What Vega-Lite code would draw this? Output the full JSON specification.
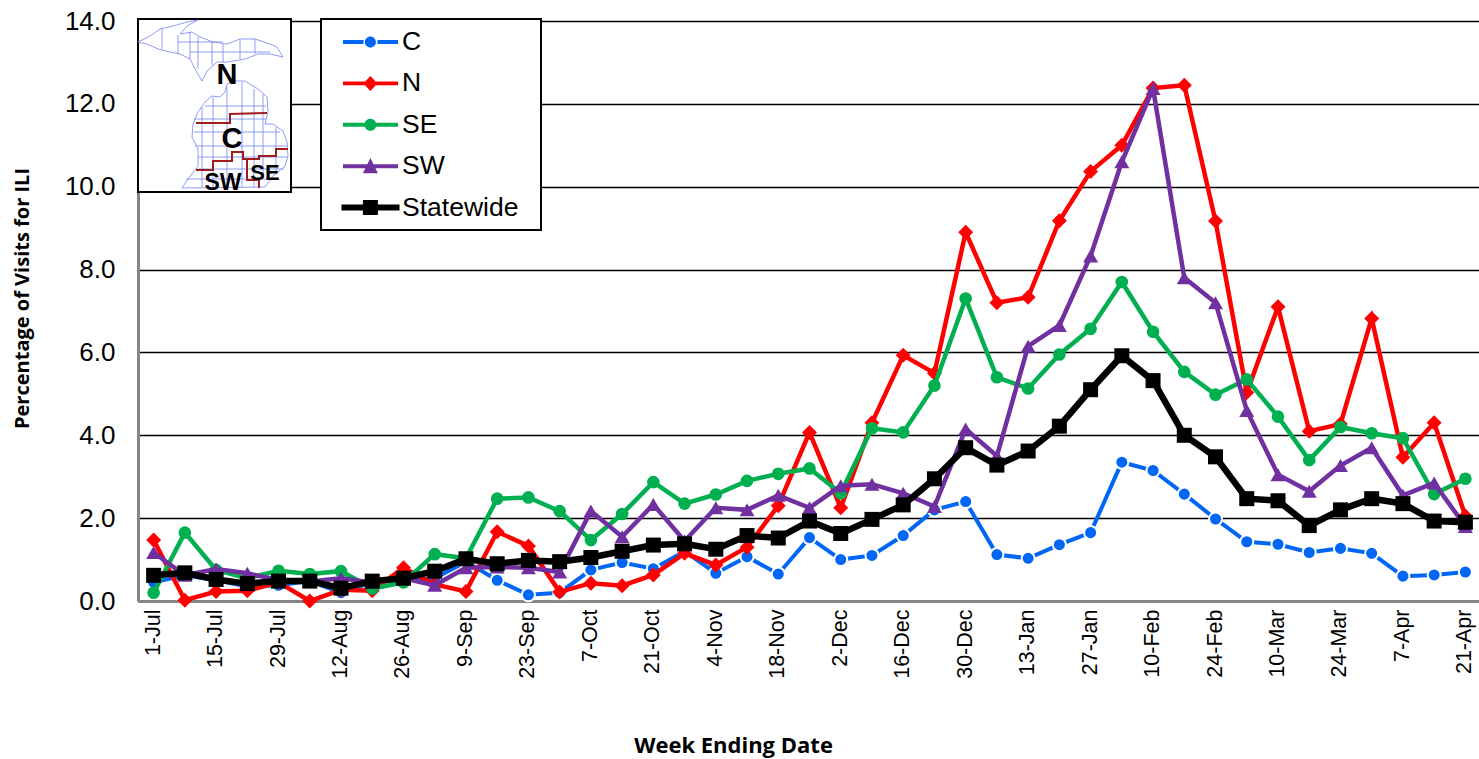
{
"$schema":"https://vega.github.io/schema/vega-lite/v6.json",
"width":1343,"height":580,"autosize":"none",
"padding":{"left":138,"top":21,"right":0,"bottom":158},
"background":"white",
"config":{"view":{"stroke":null},"legend":{"strokeWidth":2}},
"datasets":{
"ili":[
{"week":"1-Jul","region":"C","pct":0.45},{"week":"8-Jul","region":"C","pct":0.62},{"week":"15-Jul","region":"C","pct":0.5},{"week":"22-Jul","region":"C","pct":0.35},{"week":"29-Jul","region":"C","pct":0.38},{"week":"5-Aug","region":"C","pct":0.48},{"week":"12-Aug","region":"C","pct":0.2},{"week":"19-Aug","region":"C","pct":0.45},{"week":"26-Aug","region":"C","pct":0.5},{"week":"2-Sep","region":"C","pct":0.55},{"week":"9-Sep","region":"C","pct":0.95},{"week":"16-Sep","region":"C","pct":0.5},{"week":"23-Sep","region":"C","pct":0.15},{"week":"30-Sep","region":"C","pct":0.2},{"week":"7-Oct","region":"C","pct":0.75},{"week":"14-Oct","region":"C","pct":0.93},{"week":"21-Oct","region":"C","pct":0.78},{"week":"28-Oct","region":"C","pct":1.2},{"week":"4-Nov","region":"C","pct":0.67},{"week":"11-Nov","region":"C","pct":1.07},{"week":"18-Nov","region":"C","pct":0.65},{"week":"25-Nov","region":"C","pct":1.53},{"week":"2-Dec","region":"C","pct":1.0},{"week":"9-Dec","region":"C","pct":1.1},{"week":"16-Dec","region":"C","pct":1.58},{"week":"23-Dec","region":"C","pct":2.2},{"week":"30-Dec","region":"C","pct":2.4},{"week":"6-Jan","region":"C","pct":1.12},{"week":"13-Jan","region":"C","pct":1.03},{"week":"20-Jan","region":"C","pct":1.36},{"week":"27-Jan","region":"C","pct":1.65},{"week":"3-Feb","region":"C","pct":3.35},{"week":"10-Feb","region":"C","pct":3.15},{"week":"17-Feb","region":"C","pct":2.58},{"week":"24-Feb","region":"C","pct":1.98},{"week":"3-Mar","region":"C","pct":1.43},{"week":"10-Mar","region":"C","pct":1.37},{"week":"17-Mar","region":"C","pct":1.17},{"week":"24-Mar","region":"C","pct":1.27},{"week":"31-Mar","region":"C","pct":1.15},{"week":"7-Apr","region":"C","pct":0.6},{"week":"14-Apr","region":"C","pct":0.63},{"week":"21-Apr","region":"C","pct":0.7},
{"week":"1-Jul","region":"N","pct":1.47},{"week":"8-Jul","region":"N","pct":0.02},{"week":"15-Jul","region":"N","pct":0.23},{"week":"22-Jul","region":"N","pct":0.25},{"week":"29-Jul","region":"N","pct":0.45},{"week":"5-Aug","region":"N","pct":0.0},{"week":"12-Aug","region":"N","pct":0.27},{"week":"19-Aug","region":"N","pct":0.25},{"week":"26-Aug","region":"N","pct":0.8},{"week":"2-Sep","region":"N","pct":0.4},{"week":"9-Sep","region":"N","pct":0.23},{"week":"16-Sep","region":"N","pct":1.67},{"week":"23-Sep","region":"N","pct":1.33},{"week":"30-Sep","region":"N","pct":0.22},{"week":"7-Oct","region":"N","pct":0.43},{"week":"14-Oct","region":"N","pct":0.37},{"week":"21-Oct","region":"N","pct":0.63},{"week":"28-Oct","region":"N","pct":1.15},{"week":"4-Nov","region":"N","pct":0.87},{"week":"11-Nov","region":"N","pct":1.3},{"week":"18-Nov","region":"N","pct":2.3},{"week":"25-Nov","region":"N","pct":4.07},{"week":"2-Dec","region":"N","pct":2.25},{"week":"9-Dec","region":"N","pct":4.3},{"week":"16-Dec","region":"N","pct":5.93},{"week":"23-Dec","region":"N","pct":5.5},{"week":"30-Dec","region":"N","pct":8.9},{"week":"6-Jan","region":"N","pct":7.2},{"week":"13-Jan","region":"N","pct":7.33},{"week":"20-Jan","region":"N","pct":9.18},{"week":"27-Jan","region":"N","pct":10.37},{"week":"3-Feb","region":"N","pct":11.0},{"week":"10-Feb","region":"N","pct":12.38},{"week":"17-Feb","region":"N","pct":12.45},{"week":"24-Feb","region":"N","pct":9.17},{"week":"3-Mar","region":"N","pct":5.03},{"week":"10-Mar","region":"N","pct":7.1},{"week":"17-Mar","region":"N","pct":4.1},{"week":"24-Mar","region":"N","pct":4.27},{"week":"31-Mar","region":"N","pct":6.82},{"week":"7-Apr","region":"N","pct":3.47},{"week":"14-Apr","region":"N","pct":4.3},{"week":"21-Apr","region":"N","pct":2.05},
{"week":"1-Jul","region":"SE","pct":0.2},{"week":"8-Jul","region":"SE","pct":1.65},{"week":"15-Jul","region":"SE","pct":0.75},{"week":"22-Jul","region":"SE","pct":0.55},{"week":"29-Jul","region":"SE","pct":0.73},{"week":"5-Aug","region":"SE","pct":0.65},{"week":"12-Aug","region":"SE","pct":0.72},{"week":"19-Aug","region":"SE","pct":0.3},{"week":"26-Aug","region":"SE","pct":0.45},{"week":"2-Sep","region":"SE","pct":1.13},{"week":"9-Sep","region":"SE","pct":1.03},{"week":"16-Sep","region":"SE","pct":2.47},{"week":"23-Sep","region":"SE","pct":2.5},{"week":"30-Sep","region":"SE","pct":2.17},{"week":"7-Oct","region":"SE","pct":1.47},{"week":"14-Oct","region":"SE","pct":2.1},{"week":"21-Oct","region":"SE","pct":2.87},{"week":"28-Oct","region":"SE","pct":2.35},{"week":"4-Nov","region":"SE","pct":2.57},{"week":"11-Nov","region":"SE","pct":2.9},{"week":"18-Nov","region":"SE","pct":3.07},{"week":"25-Nov","region":"SE","pct":3.2},{"week":"2-Dec","region":"SE","pct":2.6},{"week":"9-Dec","region":"SE","pct":4.17},{"week":"16-Dec","region":"SE","pct":4.07},{"week":"23-Dec","region":"SE","pct":5.2},{"week":"30-Dec","region":"SE","pct":7.3},{"week":"6-Jan","region":"SE","pct":5.4},{"week":"13-Jan","region":"SE","pct":5.13},{"week":"20-Jan","region":"SE","pct":5.95},{"week":"27-Jan","region":"SE","pct":6.57},{"week":"3-Feb","region":"SE","pct":7.7},{"week":"10-Feb","region":"SE","pct":6.5},{"week":"17-Feb","region":"SE","pct":5.53},{"week":"24-Feb","region":"SE","pct":4.98},{"week":"3-Mar","region":"SE","pct":5.35},{"week":"10-Mar","region":"SE","pct":4.45},{"week":"17-Mar","region":"SE","pct":3.4},{"week":"24-Mar","region":"SE","pct":4.2},{"week":"31-Mar","region":"SE","pct":4.05},{"week":"7-Apr","region":"SE","pct":3.93},{"week":"14-Apr","region":"SE","pct":2.58},{"week":"21-Apr","region":"SE","pct":2.95},
{"week":"1-Jul","region":"SW","pct":1.17},{"week":"8-Jul","region":"SW","pct":0.62},{"week":"15-Jul","region":"SW","pct":0.77},{"week":"22-Jul","region":"SW","pct":0.67},{"week":"29-Jul","region":"SW","pct":0.5},{"week":"5-Aug","region":"SW","pct":0.47},{"week":"12-Aug","region":"SW","pct":0.55},{"week":"19-Aug","region":"SW","pct":0.45},{"week":"26-Aug","region":"SW","pct":0.55},{"week":"2-Sep","region":"SW","pct":0.38},{"week":"9-Sep","region":"SW","pct":0.8},{"week":"16-Sep","region":"SW","pct":0.82},{"week":"23-Sep","region":"SW","pct":0.8},{"week":"30-Sep","region":"SW","pct":0.7},{"week":"7-Oct","region":"SW","pct":2.17},{"week":"14-Oct","region":"SW","pct":1.55},{"week":"21-Oct","region":"SW","pct":2.33},{"week":"28-Oct","region":"SW","pct":1.45},{"week":"4-Nov","region":"SW","pct":2.25},{"week":"11-Nov","region":"SW","pct":2.2},{"week":"18-Nov","region":"SW","pct":2.55},{"week":"25-Nov","region":"SW","pct":2.25},{"week":"2-Dec","region":"SW","pct":2.78},{"week":"9-Dec","region":"SW","pct":2.82},{"week":"16-Dec","region":"SW","pct":2.6},{"week":"23-Dec","region":"SW","pct":2.28},{"week":"30-Dec","region":"SW","pct":4.15},{"week":"6-Jan","region":"SW","pct":3.5},{"week":"13-Jan","region":"SW","pct":6.15},{"week":"20-Jan","region":"SW","pct":6.65},{"week":"27-Jan","region":"SW","pct":8.33},{"week":"3-Feb","region":"SW","pct":10.6},{"week":"10-Feb","region":"SW","pct":12.37},{"week":"17-Feb","region":"SW","pct":7.8},{"week":"24-Feb","region":"SW","pct":7.2},{"week":"3-Mar","region":"SW","pct":4.6},{"week":"10-Mar","region":"SW","pct":3.05},{"week":"17-Mar","region":"SW","pct":2.65},{"week":"24-Mar","region":"SW","pct":3.27},{"week":"31-Mar","region":"SW","pct":3.7},{"week":"7-Apr","region":"SW","pct":2.55},{"week":"14-Apr","region":"SW","pct":2.85},{"week":"21-Apr","region":"SW","pct":1.8},
{"week":"1-Jul","region":"Statewide","pct":0.62},{"week":"8-Jul","region":"Statewide","pct":0.68},{"week":"15-Jul","region":"Statewide","pct":0.52},{"week":"22-Jul","region":"Statewide","pct":0.42},{"week":"29-Jul","region":"Statewide","pct":0.48},{"week":"5-Aug","region":"Statewide","pct":0.48},{"week":"12-Aug","region":"Statewide","pct":0.31},{"week":"19-Aug","region":"Statewide","pct":0.48},{"week":"26-Aug","region":"Statewide","pct":0.55},{"week":"2-Sep","region":"Statewide","pct":0.72},{"week":"9-Sep","region":"Statewide","pct":1.02},{"week":"16-Sep","region":"Statewide","pct":0.9},{"week":"23-Sep","region":"Statewide","pct":0.98},{"week":"30-Sep","region":"Statewide","pct":0.95},{"week":"7-Oct","region":"Statewide","pct":1.05},{"week":"14-Oct","region":"Statewide","pct":1.2},{"week":"21-Oct","region":"Statewide","pct":1.35},{"week":"28-Oct","region":"Statewide","pct":1.38},{"week":"4-Nov","region":"Statewide","pct":1.25},{"week":"11-Nov","region":"Statewide","pct":1.58},{"week":"18-Nov","region":"Statewide","pct":1.52},{"week":"25-Nov","region":"Statewide","pct":1.93},{"week":"2-Dec","region":"Statewide","pct":1.63},{"week":"9-Dec","region":"Statewide","pct":1.97},{"week":"16-Dec","region":"Statewide","pct":2.32},{"week":"23-Dec","region":"Statewide","pct":2.95},{"week":"30-Dec","region":"Statewide","pct":3.7},{"week":"6-Jan","region":"Statewide","pct":3.28},{"week":"13-Jan","region":"Statewide","pct":3.62},{"week":"20-Jan","region":"Statewide","pct":4.22},{"week":"27-Jan","region":"Statewide","pct":5.1},{"week":"3-Feb","region":"Statewide","pct":5.92},{"week":"10-Feb","region":"Statewide","pct":5.32},{"week":"17-Feb","region":"Statewide","pct":4.0},{"week":"24-Feb","region":"Statewide","pct":3.48},{"week":"3-Mar","region":"Statewide","pct":2.47},{"week":"10-Mar","region":"Statewide","pct":2.42},{"week":"17-Mar","region":"Statewide","pct":1.82},{"week":"24-Mar","region":"Statewide","pct":2.2},{"week":"31-Mar","region":"Statewide","pct":2.47},{"week":"7-Apr","region":"Statewide","pct":2.35},{"week":"14-Apr","region":"Statewide","pct":1.93},{"week":"21-Apr","region":"Statewide","pct":1.9}
],
"outline":[
{"part":"UP","i":0,"mx":0,"my":23},{"part":"UP","i":1,"mx":12,"my":17},{"part":"UP","i":2,"mx":22,"my":10},{"part":"UP","i":3,"mx":35,"my":7},{"part":"UP","i":4,"mx":49,"my":3},{"part":"UP","i":5,"mx":60,"my":1},{"part":"UP","i":6,"mx":49,"my":7},{"part":"UP","i":7,"mx":42,"my":15},{"part":"UP","i":8,"mx":54,"my":13},{"part":"UP","i":9,"mx":62,"my":18},{"part":"UP","i":10,"mx":75,"my":23},{"part":"UP","i":11,"mx":89,"my":25},{"part":"UP","i":12,"mx":102,"my":20},{"part":"UP","i":13,"mx":117,"my":20},{"part":"UP","i":14,"mx":132,"my":25},{"part":"UP","i":15,"mx":139,"my":28},{"part":"UP","i":16,"mx":145,"my":38},{"part":"UP","i":17,"mx":132,"my":35},{"part":"UP","i":18,"mx":120,"my":35},{"part":"UP","i":19,"mx":107,"my":40},{"part":"UP","i":20,"mx":90,"my":43},{"part":"UP","i":21,"mx":79,"my":43},{"part":"UP","i":22,"mx":69,"my":52},{"part":"UP","i":23,"mx":64,"my":62},{"part":"UP","i":24,"mx":57,"my":50},{"part":"UP","i":25,"mx":52,"my":40},{"part":"UP","i":26,"mx":42,"my":35},{"part":"UP","i":27,"mx":32,"my":33},{"part":"UP","i":28,"mx":20,"my":30},{"part":"UP","i":29,"mx":9,"my":25},{"part":"UP","i":30,"mx":0,"my":23},
{"part":"LP","i":0,"mx":89,"my":65},{"part":"LP","i":1,"mx":94,"my":62},{"part":"LP","i":2,"mx":107,"my":62},{"part":"LP","i":3,"mx":120,"my":70},{"part":"LP","i":4,"mx":129,"my":78},{"part":"LP","i":5,"mx":130,"my":93},{"part":"LP","i":6,"mx":127,"my":105},{"part":"LP","i":7,"mx":135,"my":105},{"part":"LP","i":8,"mx":145,"my":112},{"part":"LP","i":9,"mx":149,"my":123},{"part":"LP","i":10,"mx":150,"my":137},{"part":"LP","i":11,"mx":147,"my":147},{"part":"LP","i":12,"mx":135,"my":157},{"part":"LP","i":13,"mx":127,"my":168},{"part":"LP","i":14,"mx":44,"my":169},{"part":"LP","i":15,"mx":50,"my":160},{"part":"LP","i":16,"mx":60,"my":147},{"part":"LP","i":17,"mx":60,"my":130},{"part":"LP","i":18,"mx":54,"my":118},{"part":"LP","i":19,"mx":55,"my":105},{"part":"LP","i":20,"mx":60,"my":93},{"part":"LP","i":21,"mx":67,"my":83},{"part":"LP","i":22,"mx":74,"my":77},{"part":"LP","i":23,"mx":82,"my":78},{"part":"LP","i":24,"mx":87,"my":73},{"part":"LP","i":25,"mx":89,"my":65},
{"part":"g1","i":0,"mx":67,"my":87},{"part":"g1","i":1,"mx":128,"my":87},
{"part":"g2","i":0,"mx":56,"my":113},{"part":"g2","i":1,"mx":142,"my":113},
{"part":"g3","i":0,"mx":60,"my":138},{"part":"g3","i":1,"mx":149,"my":138},
{"part":"g4","i":0,"mx":56,"my":100},{"part":"g4","i":1,"mx":128,"my":100},
{"part":"g5","i":0,"mx":48,"my":160},{"part":"g5","i":1,"mx":135,"my":160},
{"part":"g17","i":0,"mx":57,"my":127},{"part":"g17","i":1,"mx":149,"my":127},
{"part":"g18","i":0,"mx":58,"my":150},{"part":"g18","i":1,"mx":146,"my":150},
{"part":"g6","i":0,"mx":75,"my":78},{"part":"g6","i":1,"mx":75,"my":168},
{"part":"g7","i":0,"mx":89,"my":68},{"part":"g7","i":1,"mx":89,"my":168},
{"part":"g8","i":0,"mx":104,"my":63},{"part":"g8","i":1,"mx":104,"my":168},
{"part":"g9","i":0,"mx":116,"my":70},{"part":"g9","i":1,"mx":116,"my":168},
{"part":"g19","i":0,"mx":64,"my":88},{"part":"g19","i":1,"mx":64,"my":168},
{"part":"g20","i":0,"mx":125,"my":75},{"part":"g20","i":1,"mx":125,"my":155},
{"part":"g21","i":0,"mx":138,"my":108},{"part":"g21","i":1,"mx":138,"my":153},
{"part":"g10","i":0,"mx":60,"my":18},{"part":"g10","i":1,"mx":60,"my":50},
{"part":"g11","i":0,"mx":40,"my":16},{"part":"g11","i":1,"mx":40,"my":35},
{"part":"g12","i":0,"mx":40,"my":23},{"part":"g12","i":1,"mx":85,"my":23},
{"part":"g13","i":0,"mx":74,"my":23},{"part":"g13","i":1,"mx":74,"my":46},
{"part":"g14","i":0,"mx":52,"my":33},{"part":"g14","i":1,"mx":132,"my":33},
{"part":"g15","i":0,"mx":117,"my":20},{"part":"g15","i":1,"mx":117,"my":35},
{"part":"g16","i":0,"mx":24,"my":10},{"part":"g16","i":1,"mx":24,"my":30},
{"part":"g22","i":0,"mx":85,"my":25},{"part":"g22","i":1,"mx":85,"my":43},
{"part":"g23","i":0,"mx":102,"my":20},{"part":"g23","i":1,"mx":102,"my":40},
{"part":"g24","i":0,"mx":52,"my":13},{"part":"g24","i":1,"mx":52,"my":40}
],
"borders":[
{"part":"a","i":0,"mx":58,"my":104},{"part":"a","i":1,"mx":92,"my":104},{"part":"a","i":2,"mx":92,"my":95},{"part":"a","i":3,"mx":129,"my":94},
{"part":"b","i":0,"mx":58,"my":151},{"part":"b","i":1,"mx":75,"my":151},{"part":"b","i":2,"mx":75,"my":142},{"part":"b","i":3,"mx":94,"my":142},{"part":"b","i":4,"mx":94,"my":133},{"part":"b","i":5,"mx":105,"my":133},{"part":"b","i":6,"mx":105,"my":140},{"part":"b","i":7,"mx":121,"my":140},{"part":"b","i":8,"mx":121,"my":137},{"part":"b","i":9,"mx":138,"my":137},{"part":"b","i":10,"mx":138,"my":130},{"part":"b","i":11,"mx":150,"my":130},
{"part":"c","i":0,"mx":109,"my":140},{"part":"c","i":1,"mx":109,"my":161},{"part":"c","i":2,"mx":121,"my":161},{"part":"c","i":3,"mx":121,"my":169}
],
"zones":[
{"zone":"N","mx":89,"my":56,"fs":29},
{"zone":"C","mx":94,"my":120,"fs":29},
{"zone":"SW","mx":85,"my":164,"fs":23},
{"zone":"SE","mx":127,"my":154,"fs":22}
],
"inset":[{"x0":0,"x1":153,"y0":0,"y1":173}]
},
"layer":[
{
"data":{"name":"ili"},
"encoding":{
"x":{"field":"week","type":"nominal","sort":null,
"scale":{"type":"band","paddingInner":0,"paddingOuter":0,"domain":["1-Jul","8-Jul","15-Jul","22-Jul","29-Jul","5-Aug","12-Aug","19-Aug","26-Aug","2-Sep","9-Sep","16-Sep","23-Sep","30-Sep","7-Oct","14-Oct","21-Oct","28-Oct","4-Nov","11-Nov","18-Nov","25-Nov","2-Dec","9-Dec","16-Dec","23-Dec","30-Dec","6-Jan","13-Jan","20-Jan","27-Jan","3-Feb","10-Feb","17-Feb","24-Feb","3-Mar","10-Mar","17-Mar","24-Mar","31-Mar","7-Apr","14-Apr","21-Apr"]},
"axis":{"title":"Week Ending Date","titleFont":"Open Sans","titleFontWeight":"bold","titleFontSize":22,"titleColor":"#000","titleX":595,"titleY":144,"titleBaseline":"middle",
"values":["1-Jul","15-Jul","29-Jul","12-Aug","26-Aug","9-Sep","23-Sep","7-Oct","21-Oct","4-Nov","18-Nov","2-Dec","16-Dec","30-Dec","13-Jan","27-Jan","10-Feb","24-Feb","10-Mar","24-Mar","7-Apr","21-Apr"],
"labelAngle":-90,"labelFont":"Liberation Sans","labelFontSize":21.5,"labelColor":"#000","labelPadding":8,"labelOverlap":false,"labelBound":false,"labelFlush":false,"ticks":false,"domainColor":"#868686","domainWidth":3,"grid":false}},
"y":{"field":"pct","type":"quantitative","scale":{"domain":[0,14],"nice":false},
"axis":{"title":"Percentage of Visits for ILI","titleFont":"Open Sans","titleFontWeight":"bold","titleFontSize":20,"titleColor":"#000","titleX":-116,"titleY":277,"titleBaseline":"middle",
"values":[0,2,4,6,8,10,12,14],"format":".1f","labelFont":"Liberation Sans","labelFontSize":26,"labelColor":"#000","labelPadding":23,"ticks":false,"domainColor":"#868686","domainWidth":3,"grid":true,"gridColor":"#000","gridWidth":1.5}},
"color":{"field":"region","type":"nominal","scale":{"domain":["C","N","SE","SW","Statewide"],"range":["#0066F5","#FF0000","#00B050","#7030A0","#000000"]},"legend":null}
},
"layer":[
{"transform":[{"filter":"datum.region==='C'"}],"mark":{"type":"line","strokeWidth":4,"point":{"shape":"circle","size":170,"filled":true,"stroke":"white","strokeWidth":2,"opacity":1}},
"encoding":{"color":{"field":"region","type":"nominal","title":null,"scale":{"domain":["C","N","SE","SW","Statewide"],"range":["#0066F5","#FF0000","#00B050","#7030A0","#000000"]},
"legend":{"orient":"none","legendX":183,"legendY":-2,"title":" ","titleOrient":"right","titlePadding":15,"fillColor":"white","strokeColor":"#000","padding":8,"symbolSize":900,"symbolStrokeWidth":0,"labelFont":"Liberation Sans","labelFontSize":26.5,"labelColor":"#000","labelOffset":43,"rowPadding":12.4,
"encode":{"symbols":{"update":{"fill":{"scale":"color","field":"value"},"stroke":{"value":"transparent"},"shape":{"signal":"datum.value==='C'?'M-.07,-.13H1.3V.13H-.07Z M2.23,-.13H3.6V.13H2.23Z M1.39,0A.37,.37 0 1 1 2.13,0A.37,.37 0 1 1 1.39,0Z':datum.value==='N'?'M-.07,-.13H3.6V.13H-.07Z M1.76,-.5L2.23,0L1.76,.5L1.29,0Z':datum.value==='SE'?'M-.07,-.13H3.6V.13H-.07Z M1.36,0A.4,.4 0 1 1 2.16,0A.4,.4 0 1 1 1.36,0Z':datum.value==='SW'?'M-.07,-.13H3.6V.13H-.07Z M1.76,-.55L2.26,.47H1.26Z':'M-.17,-.2H3.7V.2H-.17Z M1.26,-.5H2.26V.5H1.26Z'"}}}}
}}}},
{"transform":[{"filter":"datum.region==='N'"}],"mark":{"type":"line","strokeWidth":4.5,"point":{"shape":"diamond","size":225,"filled":true,"opacity":1}}},
{"transform":[{"filter":"datum.region==='SE'"}],"mark":{"type":"line","strokeWidth":4.5,"point":{"shape":"circle","size":160,"filled":true,"opacity":1}}},
{"transform":[{"filter":"datum.region==='SW'"}],"mark":{"type":"line","strokeWidth":4.5,"point":{"shape":"triangle-up","size":225,"filled":true,"opacity":1}}},
{"transform":[{"filter":"datum.region==='Statewide'"}],"mark":{"type":"line","strokeWidth":6.5,"point":{"shape":"square","size":225,"filled":true,"opacity":1}}}
]
},
{
"layer":[
{"data":{"name":"inset"},"mark":{"type":"rect","fill":"white","stroke":"#000","strokeWidth":2},
"encoding":{"x":{"field":"x0","type":"quantitative","scale":{"domain":[0,1343],"nice":false,"zero":false},"axis":null},"x2":{"field":"x1"},
"y":{"field":"y0","type":"quantitative","scale":{"domain":[2,582],"nice":false,"zero":false,"reverse":true},"axis":null},"y2":{"field":"y1"}}},
{"data":{"name":"outline"},"mark":{"type":"line","color":"#7C8BF2","strokeWidth":1,"opacity":0.85},
"encoding":{"detail":{"field":"part"},"order":{"field":"i"},"x":{"field":"mx","type":"quantitative"},"y":{"field":"my","type":"quantitative"}}},
{"data":{"name":"borders"},"mark":{"type":"line","color":"#A01C1C","strokeWidth":2},
"encoding":{"detail":{"field":"part"},"order":{"field":"i"},"x":{"field":"mx","type":"quantitative"},"y":{"field":"my","type":"quantitative"}}},
{"data":{"name":"zones"},"mark":{"type":"text","font":"Liberation Sans","fontWeight":"bold","color":"#000","align":"center","baseline":"middle"},
"encoding":{"text":{"field":"zone"},"size":{"field":"fs","type":"quantitative","scale":null},"x":{"field":"mx","type":"quantitative"},"y":{"field":"my","type":"quantitative"}}}
]
}
],
"resolve":{"scale":{"x":"independent","y":"independent","color":"independent"},"axis":{"x":"independent","y":"independent"}}
}
